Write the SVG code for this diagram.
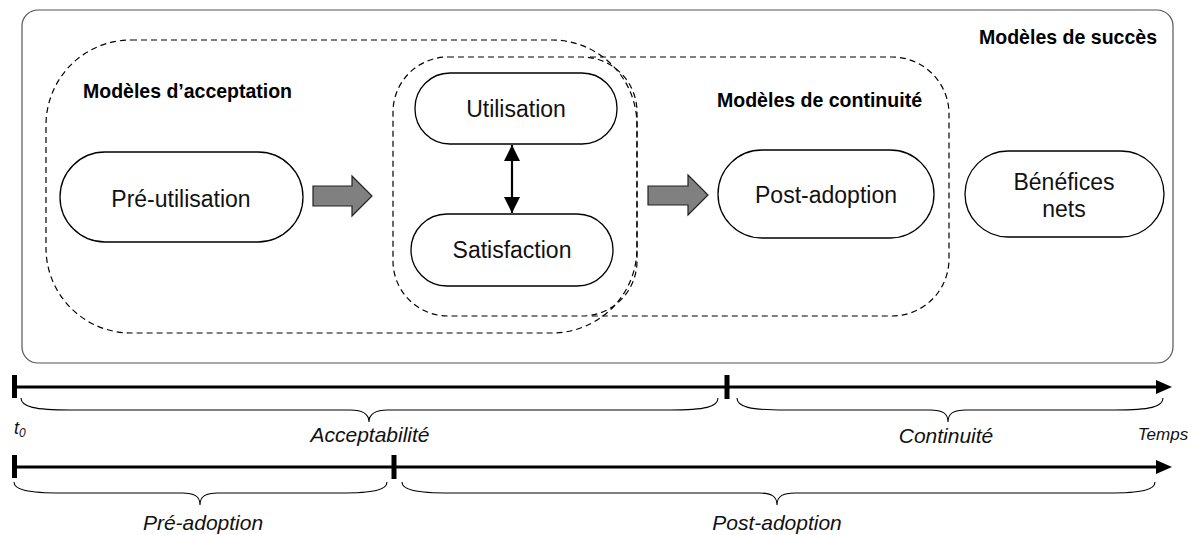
<svg xmlns="http://www.w3.org/2000/svg" width="1199" height="535" viewBox="0 0 1199 535">
<style>
.node{fill:#fff;stroke:#000;stroke-width:1.3}
.dash{fill:none;stroke:#000;stroke-width:1.2;stroke-dasharray:6 4}
.lbl{font-family:"Liberation Sans",Arial,sans-serif;font-size:23px;fill:#111;text-anchor:middle}
.bold{font-family:"Liberation Sans",Arial,sans-serif;font-size:21px;font-weight:bold;fill:#000}
.it{font-family:"Liberation Sans",Arial,sans-serif;font-style:italic;font-size:21px;fill:#111;text-anchor:middle}
.big{fill:#808080;stroke:#222;stroke-width:1.2}
.tl{stroke:#000;stroke-width:3;fill:none}
.tick{fill:#000}
.brace{fill:none;stroke:#000;stroke-width:1.1}
</style>
<defs>
<marker id="dh" viewBox="0 0 16 16" refX="16" refY="8" markerWidth="16" markerHeight="17" markerUnits="userSpaceOnUse" orient="auto-start-reverse">
<path d="M0,0 L16,8 L0,16 z" fill="#000"/>
</marker>
</defs>

<g id="container-succes">
<rect x="22" y="10" width="1151" height="353" rx="16" fill="#fff" stroke="#555" stroke-width="1.2"/>
<text class="bold" x="979" y="44" textLength="178" lengthAdjust="spacingAndGlyphs">Modèles de succès</text>
</g>

<g id="region-acceptation">
<rect class="dash" x="46" y="40" width="591" height="293" rx="85"/>
<text class="bold" x="83" y="98" textLength="209" lengthAdjust="spacingAndGlyphs">Modèles d’acceptation</text>
</g>

<g id="region-usage">
<rect class="dash" x="393" y="57" width="244" height="259" rx="55"/>
</g>

<g id="region-continuite">
<path class="dash" d="M590,57 L892,57 A57,57 0 0 1 949,114 L949,259 A57,57 0 0 1 892,316 L590,316"/>
<text class="bold" x="717" y="107" textLength="205" lengthAdjust="spacingAndGlyphs">Modèles de continuité</text>
</g>

<g id="node-pre-utilisation">
<rect class="node" x="60" y="152" width="243" height="90" rx="45"/>
<text class="lbl" x="181" y="207">Pré-utilisation</text>
</g>

<g id="node-utilisation">
<rect class="node" x="415" y="73" width="202" height="71" rx="35"/>
<text class="lbl" x="516" y="117">Utilisation</text>
</g>

<g id="node-satisfaction">
<rect class="node" x="411" y="214" width="202" height="72" rx="36"/>
<text class="lbl" x="512" y="258">Satisfaction</text>
</g>

<g id="node-post-adoption">
<rect class="node" x="718" y="150" width="216" height="88" rx="44"/>
<text class="lbl" x="826" y="203">Post-adoption</text>
</g>

<g id="node-benefices">
<rect class="node" x="965" y="151" width="199" height="86" rx="43"/>
<text class="lbl" x="1064" y="190">Bénéfices</text>
<text class="lbl" x="1064" y="217">nets</text>
</g>

<g id="connectors">
<path class="big" d="M313,186 L352,186 L352,176 L372,196 L352,216 L352,206 L313,206 Z"/>
<path class="big" d="M648,186 L688,186 L688,175 L708,195 L688,215 L688,205 L648,205 Z"/>
<line x1="512" y1="145" x2="512" y2="213" stroke="#000" stroke-width="2.2" marker-start="url(#dh)" marker-end="url(#dh)"/>
</g>

<g id="timeline-1">
<line class="tl" x1="14" y1="387" x2="1160" y2="387"/>
<path d="M1156,380 L1172,387 L1156,394 Z" fill="#000"/>
<rect class="tick" x="12" y="375" width="5" height="23"/>
<rect class="tick" x="724.5" y="375" width="5" height="24"/>
<path class="brace" d="M21,398 C21,407 35,410 70,410 L350,410 C362,410 369,413 369,422 C369,413 376,410 388,410 L670,410 C705,410 718,407 718,398"/>
<path class="brace" d="M737,398 C737,407 750,410 785,410 L930,410 C942,410 948,413 948,422 C948,413 954,410 966,410 L1115,410 C1150,410 1163,407 1163,398"/>
<text x="14" y="434" font-family="Liberation Sans, Arial, sans-serif" font-style="italic" font-size="18" fill="#111">t<tspan font-size="12" dy="3">0</tspan></text>
<text class="it" x="370" y="442">Acceptabilité</text>
<text class="it" x="946" y="443">Continuité</text>
<text x="1163" y="440" font-family="Liberation Sans, Arial, sans-serif" font-style="italic" font-size="17" fill="#111" text-anchor="middle">Temps</text>
</g>

<g id="timeline-2">
<line class="tl" x1="14" y1="467" x2="1160" y2="467"/>
<path d="M1156,460 L1172,467 L1156,474 Z" fill="#000"/>
<rect class="tick" x="12" y="455" width="5" height="23"/>
<rect class="tick" x="391.5" y="455" width="5" height="24"/>
<path class="brace" d="M14,482 C14,490 28,493 62,493 L182,493 C194,493 200,496 200,505 C200,496 206,493 218,493 L340,493 C374,493 387,490 387,482"/>
<path class="brace" d="M402,482 C402,490 416,493 450,493 L759,493 C771,493 777,496 777,505 C777,496 783,493 795,493 L1108,493 C1142,493 1155,490 1155,482"/>
<text class="it" x="203" y="530">Pré-adoption</text>
<text class="it" x="777" y="530">Post-adoption</text>
</g>
</svg>
